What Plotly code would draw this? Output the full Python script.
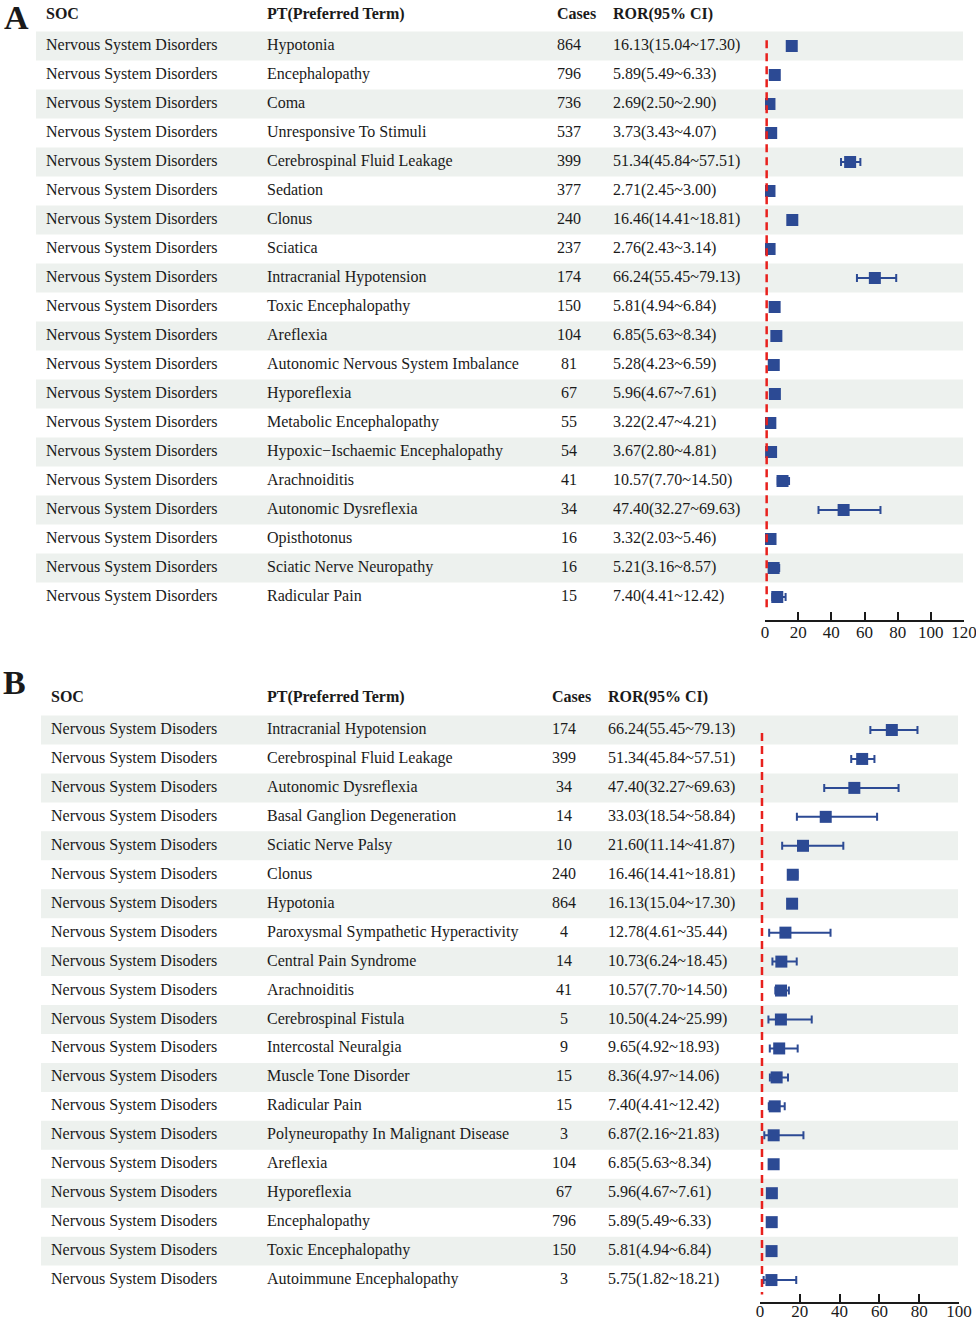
import plotly.graph_objects as go

# ---------------- data ----------------
soc_a = "Nervous System Disorders"
pt_a = ["Hypotonia", "Encephalopathy", "Coma", "Unresponsive To Stimuli",
        "Cerebrospinal Fluid Leakage", "Sedation", "Clonus", "Sciatica",
        "Intracranial Hypotension", "Toxic Encephalopathy", "Areflexia",
        "Autonomic Nervous System Imbalance", "Hyporeflexia",
        "Metabolic Encephalopathy", "Hypoxic\u2212Ischaemic Encephalopathy",
        "Arachnoiditis", "Autonomic Dysreflexia", "Opisthotonus",
        "Sciatic Nerve Neuropathy", "Radicular Pain"]
cases_a = [864, 796, 736, 537, 399, 377, 240, 237, 174, 150, 104, 81, 67, 55, 54, 41, 34, 16, 16, 15]
ror_a = [16.13, 5.89, 2.69, 3.73, 51.34, 2.71, 16.46, 2.76, 66.24, 5.81, 6.85, 5.28, 5.96, 3.22, 3.67, 10.57, 47.40, 3.32, 5.21, 7.40]
lo_a = [15.04, 5.49, 2.50, 3.43, 45.84, 2.45, 14.41, 2.43, 55.45, 4.94, 5.63, 4.23, 4.67, 2.47, 2.80, 7.70, 32.27, 2.03, 3.16, 4.41]
hi_a = [17.30, 6.33, 2.90, 4.07, 57.51, 3.00, 18.81, 3.14, 79.13, 6.84, 8.34, 6.59, 7.61, 4.21, 4.81, 14.50, 69.63, 5.46, 8.57, 12.42]
ticks_a = [0, 20, 40, 60, 80, 100, 120]

soc_b = "Nervous System Disoders"
pt_b = ["Intracranial Hypotension", "Cerebrospinal Fluid Leakage", "Autonomic Dysreflexia",
        "Basal Ganglion Degeneration", "Sciatic Nerve Palsy", "Clonus", "Hypotonia",
        "Paroxysmal Sympathetic Hyperactivity", "Central Pain Syndrome", "Arachnoiditis",
        "Cerebrospinal Fistula", "Intercostal Neuralgia", "Muscle Tone Disorder",
        "Radicular Pain", "Polyneuropathy In Malignant Disease", "Areflexia",
        "Hyporeflexia", "Encephalopathy", "Toxic Encephalopathy", "Autoimmune Encephalopathy"]
cases_b = [174, 399, 34, 14, 10, 240, 864, 4, 14, 41, 5, 9, 15, 15, 3, 104, 67, 796, 150, 3]
ror_b = [66.24, 51.34, 47.40, 33.03, 21.60, 16.46, 16.13, 12.78, 10.73, 10.57, 10.50, 9.65, 8.36, 7.40, 6.87, 6.85, 5.96, 5.89, 5.81, 5.75]
lo_b = [55.45, 45.84, 32.27, 18.54, 11.14, 14.41, 15.04, 4.61, 6.24, 7.70, 4.24, 4.92, 4.97, 4.41, 2.16, 5.63, 4.67, 5.49, 4.94, 1.82]
hi_b = [79.13, 57.51, 69.63, 58.84, 41.87, 18.81, 17.30, 35.44, 18.45, 14.50, 25.99, 18.93, 14.06, 12.42, 21.83, 8.34, 7.61, 6.33, 6.84, 18.21]
ticks_b = [0, 20, 40, 60, 80, 100]

headers = ["SOC", "PT(Preferred Term)", "Cases", "ROR(95% CI)"]

# ---------------- style ----------------
W, H = 976, 1321
FONT = "Liberation Serif"
TXT = "#1a1a1a"
SHADE = "#EDF1EE"
BLUE = "#2C4A94"
RED = "#E8211D"
FS = 16


def px(xp):
    return xp / W


def py(yp):
    return 1 - yp / H


fig = go.Figure()


def panel(n, soc, pts, cases, ror, lo, hi, cfg):
    xt = "x" if n == 1 else "x3"
    xf = "x2" if n == 1 else "x4"
    yy = "y" if n == 1 else "y2"
    rows = list(range(len(pts)))
    ror_txt = [f"{r:.2f}({l:.2f}~{h:.2f})" for r, l, h in zip(ror, lo, hi)]
    common = dict(mode="text", xaxis=xt, yaxis=yy, hoverinfo="skip", showlegend=False,
                  cliponaxis=False, textfont=dict(family=FONT, size=FS, color=TXT))
    fig.add_trace(go.Scatter(x=[cfg["soc_x"]] * len(rows), y=rows, text=[soc] * len(rows),
                             textposition="middle right", **common))
    fig.add_trace(go.Scatter(x=[cfg["pt_x"]] * len(rows), y=rows, text=pts,
                             textposition="middle right", **common))
    fig.add_trace(go.Scatter(x=[cfg["cases_x"]] * len(rows), y=rows, text=[str(c) for c in cases],
                             textposition="middle center", **common))
    fig.add_trace(go.Scatter(x=[cfg["ror_x"]] * len(rows), y=rows, text=ror_txt,
                             textposition="middle right", **common))
    hx = [cfg["soc_x"], cfg["pt_x"], cfg["cases_hx"], cfg["ror_x"]]
    fig.add_trace(go.Scatter(x=hx, y=[cfg["head_r"]] * 4, text=[f"<b>{h}</b>" for h in headers],
                             textposition="middle right", **common))
    for i in rows:
        if i % 2 == 0:
            fig.add_shape(type="rect", xref=xt, yref=yy, x0=cfg["sh0"], x1=cfg["sh1"],
                          y0=i - 0.5, y1=i + 0.5, fillcolor=SHADE, line_width=0, layer="below")
    fig.add_shape(type="line", xref=xf, yref=yy, x0=1, x1=1, y0=cfg["red0"], y1=19.5,
                  line=dict(color=RED, width=2.5, dash="8px,5px"))
    fig.add_trace(go.Scatter(
        x=ror, y=rows, xaxis=xf, yaxis=yy, mode="markers", showlegend=False,
        marker=dict(symbol="square", size=12, color=BLUE),
        error_x=dict(type="data", symmetric=False,
                     array=[h - r for h, r in zip(hi, ror)],
                     arrayminus=[r - l for r, l in zip(ror, lo)],
                     color=BLUE, thickness=2, width=4),
        hoverinfo="skip"))


cfgA = dict(soc_x=46, pt_x=267, cases_x=569, cases_hx=557, ror_x=613, head_r=(15 - 46) / 29,
            sh0=36, sh1=963, red0=-0.2)
cfgB = dict(soc_x=51, pt_x=267, cases_x=564, cases_hx=552, ror_x=608, head_r=(698 - 730) / 28.95,
            sh0=41, sh1=958, red0=0.1)

panel(1, soc_a, pt_a, cases_a, ror_a, lo_a, hi_a, cfgA)
panel(2, soc_b, pt_b, cases_b, ror_b, lo_b, hi_b, cfgB)

hidden = dict(visible=False, fixedrange=True, automargin=False)
axis_font = dict(family=FONT, size=17, color=TXT)
forest_axis = dict(ticks="inside", ticklen=8, tickwidth=1.5, tickcolor=TXT,
                   showline=True, linecolor=TXT, linewidth=1.5, showgrid=False, zeroline=False,
                   tickfont=axis_font, fixedrange=True, automargin=False,
                   ticklabeloverflow="allow")

# Panel A: row centres at px 46 + 29*i, axis line at px 620
A_top, A_bot = 0, 620
# Panel B: row centres at px 730 + 28.95*i, axis line at px 1302
B_top, B_bot = 660, 1302

fig.update_layout(
    width=W, height=H, margin=dict(l=0, r=0, t=0, b=0, pad=0), autosize=False,
    paper_bgcolor="white", plot_bgcolor="rgba(0,0,0,0)",
    xaxis=dict(domain=[0, 1], range=[0, W], anchor="y", **hidden),
    yaxis=dict(domain=[py(A_bot), py(A_top)],
               range=[(A_bot - 46) / 29, (A_top - 46) / 29], anchor="x", **hidden),
    xaxis2=dict(domain=[px(765), px(964)], range=[0, 120], anchor="y", tickvals=ticks_a,
                ticklabelstandoff=-4, **forest_axis),
    xaxis3=dict(domain=[0, 1], range=[0, W], anchor="y2", **hidden),
    yaxis2=dict(domain=[py(B_bot), py(B_top)],
                range=[(B_bot - 730) / 28.95, (B_top - 730) / 28.95], anchor="x3", **hidden),
    xaxis4=dict(domain=[px(760), px(959)], range=[0, 100], anchor="y2", tickvals=ticks_b,
                ticklabelstandoff=-7, **forest_axis),
    annotations=[
        dict(text="<b>A</b>", x=px(16), y=py(18), xref="paper", yref="paper",
             xanchor="center", yanchor="middle", showarrow=False,
             font=dict(family=FONT, size=34, color=TXT)),
        dict(text="<b>B</b>", x=px(14), y=py(682), xref="paper", yref="paper",
             xanchor="center", yanchor="middle", showarrow=False,
             font=dict(family=FONT, size=34, color=TXT)),
    ],
)

fig.write_html("out.html", config={"displayModeBar": False},
               post_script="document.body.style.margin='0';document.body.style.overflow='hidden';")
